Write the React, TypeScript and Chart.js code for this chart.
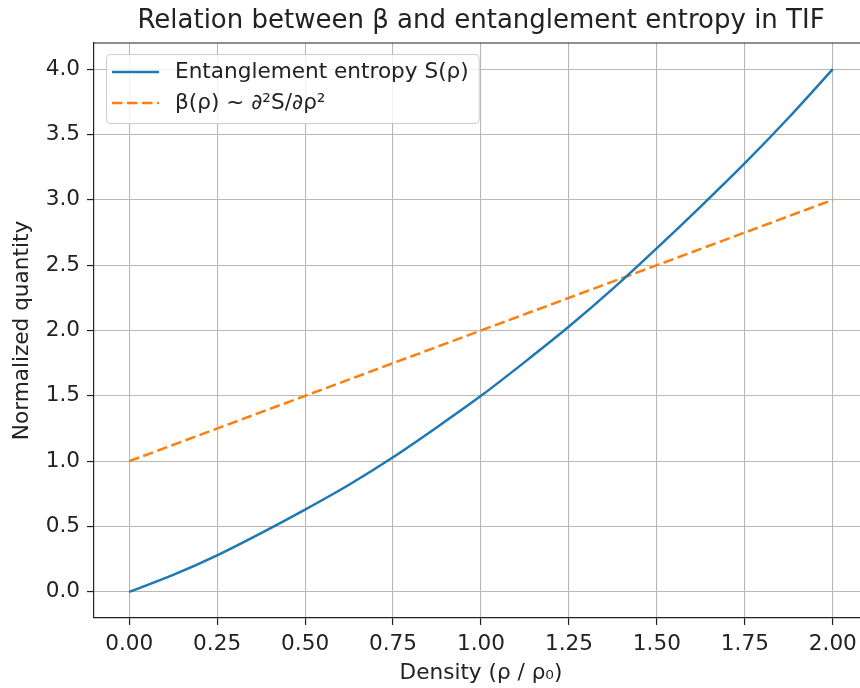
import React, { useEffect, useRef } from 'react';
import { Chart, registerables } from 'chart.js';

Chart.register(...registerables);

// ---- data ----
const rhoEntropy = [0, 0.125, 0.25, 0.375, 0.5, 0.625, 0.75, 0.875, 1.0, 1.125, 1.25, 1.375, 1.5, 1.625, 1.75, 1.875, 2.0];
const entropyValues = [0, 0.13, 0.28, 0.45, 0.63, 0.82, 1.03, 1.26, 1.5, 1.76, 2.03, 2.32, 2.63, 2.95, 3.28, 3.63, 4.0];
const rhoBeta = [0, 0.5, 1.0, 1.5, 2.0];
const betaValues = [1.0, 1.5, 2.0, 2.5, 3.0];

const xTickValues = [0, 0.25, 0.5, 0.75, 1.0, 1.25, 1.5, 1.75, 2.0];
const yTickValues = [0, 0.5, 1.0, 1.5, 2.0, 2.5, 3.0, 3.5, 4.0];

const TITLE = 'Relation between β and entanglement entropy in TIF';
const X_LABEL = 'Density (ρ / ρ₀)';
const Y_LABEL = 'Normalized quantity';
const SERIES_LABELS = ['Entanglement entropy S(ρ)', 'β(ρ) ~ ∂²S/∂ρ²'];

const FONT = '"DejaVu Sans", "Noto Sans", sans-serif';
const TEXT = '#222222';
const BLUE = '#1f77b4';
const ORANGE = '#ff7f0e';
const DASH = [10.5, 4.5];
const BASE = 21.6;
const TITLE_SIZE = 26;
const LW = 2.5;

const decorPlugin = {
  id: 'decor',
  afterDraw(chart: any) {
    const { ctx, chartArea: a } = chart;
    ctx.save();
    // top & right spines
    ctx.strokeStyle = '#222';
    ctx.lineWidth = 1.2;
    ctx.beginPath();
    ctx.moveTo(a.left, a.top);
    ctx.lineTo(a.right, a.top);
    ctx.lineTo(a.right, a.bottom);
    ctx.stroke();

    // title
    ctx.font = `${TITLE_SIZE}px ${FONT}`;
    ctx.fillStyle = TEXT;
    ctx.textAlign = 'center';
    ctx.textBaseline = 'alphabetic';
    ctx.fillText(TITLE, (a.left + a.right) / 2, 28);

    // legend
    ctx.font = `${BASE}px ${FONT}`;
    const maxW = Math.max(...SERIES_LABELS.map((t) => ctx.measureText(t).width));
    const bx = a.left + 12;
    const by = a.top + 11;
    const bw = 69 + maxW + 10;
    const bh = 69;
    ctx.beginPath();
    if (ctx.roundRect) ctx.roundRect(bx + 0.5, by + 0.5, bw, bh, 4);
    else ctx.rect(bx + 0.5, by + 0.5, bw, bh);
    ctx.fillStyle = 'rgba(255,255,255,0.8)';
    ctx.fill();
    ctx.strokeStyle = '#cccccc';
    ctx.lineWidth = 1;
    ctx.stroke();

    const rows = [
      { y: by + 18, color: BLUE, dash: [] as number[] },
      { y: by + 49, color: ORANGE, dash: DASH },
    ];
    rows.forEach((r, i) => {
      ctx.beginPath();
      ctx.setLineDash(r.dash);
      ctx.strokeStyle = r.color;
      ctx.lineWidth = LW;
      ctx.moveTo(bx + 6, r.y);
      ctx.lineTo(bx + 53, r.y);
      ctx.stroke();
      ctx.setLineDash([]);
      ctx.fillStyle = TEXT;
      ctx.textAlign = 'left';
      ctx.textBaseline = 'middle';
      ctx.fillText(SERIES_LABELS[i], bx + 69, r.y);
    });
    ctx.restore();
  },
};

export default function App() {
  const ref = useRef<HTMLCanvasElement | null>(null);

  useEffect(() => {
    if (!ref.current) return;
    const chart = new Chart(ref.current, {
      type: 'line',
      data: {
        datasets: [
          {
            label: SERIES_LABELS[0],
            data: rhoEntropy.map((x, i) => ({ x, y: entropyValues[i] })),
            borderColor: BLUE,
            borderWidth: LW,
            pointRadius: 0,
            cubicInterpolationMode: 'monotone',
            fill: false,
          },
          {
            label: SERIES_LABELS[1],
            data: rhoBeta.map((x, i) => ({ x, y: betaValues[i] })),
            borderColor: ORANGE,
            borderWidth: LW,
            borderDash: DASH,
            pointRadius: 0,
            tension: 0,
            fill: false,
          },
        ],
      },
      options: {
        responsive: false,
        animation: false,
        layout: { padding: { top: 43, left: 0, right: 12, bottom: 0 } },
        plugins: {
          legend: { display: false },
          title: { display: false },
          tooltip: { enabled: false },
        },
        scales: {
          x: {
            type: 'linear',
            min: -0.1,
            max: 2.1,
            afterBuildTicks: (s: any) => {
              s.ticks = xTickValues.map((v) => ({ value: v }));
            },
            afterFit: (s: any) => {
              s.height = 70;
            },
            ticks: {
              callback: (v: any) => Number(v).toFixed(2),
              font: { family: FONT, size: BASE },
              color: TEXT,
              padding: 6,
              maxRotation: 0,
              autoSkip: false,
            },
            grid: { color: '#b8b8b8', lineWidth: 1.1, tickLength: 7, tickColor: '#222', tickWidth: 1.2 },
            border: { color: '#222', width: 1.2 },
            title: {
              display: true,
              text: X_LABEL,
              font: { family: FONT, size: BASE },
              color: TEXT,
              padding: { top: 0, bottom: 2 },
            },
          },
          y: {
            type: 'linear',
            min: -0.2,
            max: 4.2,
            afterBuildTicks: (s: any) => {
              s.ticks = yTickValues.map((v) => ({ value: v }));
            },
            afterFit: (s: any) => {
              s.width = 94;
            },
            ticks: {
              callback: (v: any) => Number(v).toFixed(1),
              font: { family: FONT, size: BASE },
              color: TEXT,
              padding: 7,
              autoSkip: false,
            },
            grid: { color: '#b8b8b8', lineWidth: 1.1, tickLength: 7, tickColor: '#222', tickWidth: 1.2 },
            border: { color: '#222', width: 1.2 },
            title: {
              display: true,
              text: Y_LABEL,
              font: { family: FONT, size: BASE },
              color: TEXT,
              padding: { top: 9, bottom: 0 },
            },
          },
        },
      },
      plugins: [decorPlugin],
    });
    return () => chart.destroy();
  }, []);

  return (
    <div
      style={{
        position: 'fixed',
        left: 0,
        top: 0,
        width: 860,
        height: 688,
        overflow: 'hidden',
        background: '#fff',
      }}
    >
      <canvas ref={ref} width={880} height={688} style={{ display: 'block' }} />
    </div>
  );
}
